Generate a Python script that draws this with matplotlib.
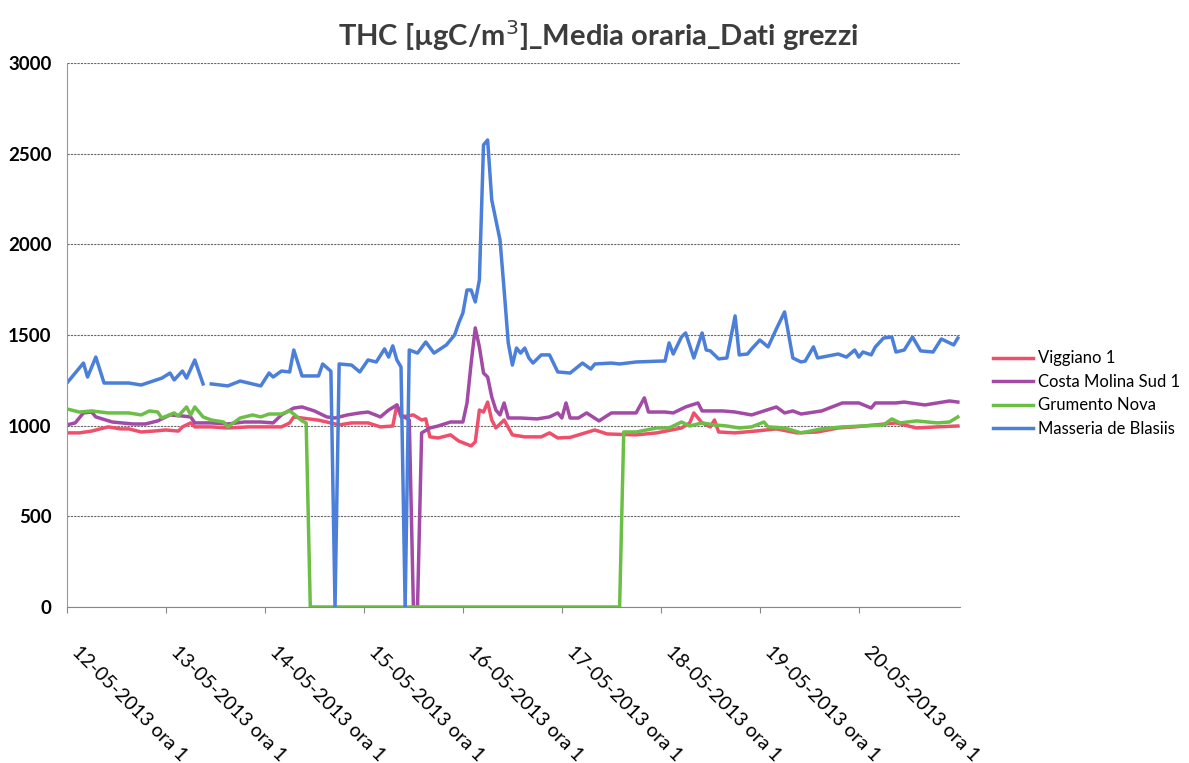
import numpy as np
import matplotlib
matplotlib.use('Agg')
import matplotlib.pyplot as plt
from matplotlib.transforms import ScaledTranslation

plt.rcParams['font.family'] = ['Lato', 'DejaVu Sans']

# hours since 12-05-2013 ora 1, hourly averages
nan = np.nan
viggiano = [(0, 960), (3, 960), (6, 970), (10, 993), (13, 982), (15, 982), (18, 965), (21, 970), (24, 976),
            (27, 970), (28, 993), (30, 1015), (31, 993), (35, 993), (39, 987), (44, 993), (48, 993), (52, 993),
            (54, 1015), (55, 1048), (57, 1042), (61, 1030), (63, 1020), (66, 1004), (69, 1015), (73, 1015),
            (76, 993), (79, 998), (80, 1114), (81, 1048), (84, 1059), (86, 1031), (87, 1037), (88, 938),
            (90, 932), (93, 949), (95, 915), (98, 888), (99, 910), (100, 1086), (101, 1075), (102, 1130),
            (103, 1031), (104, 987), (106, 1031), (108, 949), (111, 938), (115, 938), (117, 960), (119, 932),
            (122, 935), (128, 976), (131, 954), (138, 949), (143, 960), (149, 987), (151, 1015), (152, 1070),
            (154, 1015), (156, 993), (157, 1031), (158, 965), (162, 960), (167, 970), (172, 982), (177, 960),
            (182, 965), (187, 987), (191, 993), (196, 1004), (201, 1015), (206, 987), (211, 993), (216, 998)]

costa_molina = [(0, 1004), (2, 1015), (4, 1070), (6, 1075), (7, 1048), (11, 1020), (16, 1009), (19, 1009),
                (22, 1026), (25, 1059), (28, 1053), (30, 1048), (31, 1015), (35, 1015), (39, 1009), (43, 1020),
                (47, 1020), (50, 1015), (52, 1059), (55, 1097), (57, 1103), (60, 1081), (63, 1048), (65, 1042),
                (68, 1059), (71, 1070), (73, 1075), (76, 1048), (78, 1086), (80, 1114), (81, 1059), (83, 1031),
                (84, 0), (85, 0), (86, 960), (88, 987), (90, 998), (93, 1020), (96, 1020), (97, 1125), (98, 1345),
                (99, 1539), (100, 1434), (101, 1290), (102, 1268), (103, 1158), (104, 1086), (105, 1059),
                (106, 1125), (107, 1042), (110, 1042), (114, 1037), (117, 1048), (119, 1070), (120, 1042),
                (121, 1125), (122, 1042), (124, 1042), (126, 1070), (129, 1026), (132, 1070), (138, 1070),
                (140, 1153), (141, 1075), (145, 1075), (147, 1070), (150, 1103), (153, 1125), (154, 1081),
                (159, 1081), (162, 1075), (166, 1059), (172, 1103), (174, 1070), (176, 1081), (178, 1064),
                (183, 1081), (188, 1125), (192, 1125), (195, 1097), (196, 1125), (201, 1125), (203, 1130),
                (208, 1114), (211, 1125), (214, 1136), (216, 1130)]

grumento = [(0, 1092), (3, 1075), (6, 1081), (10, 1070), (15, 1070), (18, 1059), (20, 1081), (22, 1075),
            (23, 1042), (26, 1070), (27, 1053), (29, 1103), (30, 1059), (31, 1103), (33, 1048), (35, 1031),
            (38, 1020), (39, 993), (42, 1042), (45, 1059), (47, 1048), (49, 1064), (52, 1064), (54, 1081),
            (55, 1064), (57, 1026), (58, 1015), (59, 0), (134, 0), (135, 965), (138, 965), (143, 987),
            (146, 987), (149, 1020), (151, 998), (154, 1015), (157, 1004), (160, 998), (163, 987), (166, 993),
            (169, 1020), (170, 993), (174, 987), (178, 960), (183, 982), (188, 993), (193, 998), (198, 1004),
            (200, 1037), (202, 1015), (206, 1026), (211, 1015), (214, 1020), (216, 1048)]

masseria = [(0, 1235), (2, 1290), (4, 1345), (5, 1268), (7, 1378), (9, 1235), (15, 1235), (18, 1224),
            (23, 1262), (25, 1290), (26, 1252), (28, 1301), (29, 1262), (31, 1362), (33, 1230), (34, nan),
            (35, 1230), (39, 1219), (42, 1246), (47, 1219), (49, 1290), (50, 1268), (52, 1301), (54, 1296),
            (55, 1417), (57, 1274), (61, 1274), (62, 1340), (64, 1300), (65, 0), (66, 1340), (69, 1334),
            (71, 1296), (73, 1362), (75, 1351), (77, 1423), (78, 1378), (79, 1440), (80, 1362), (81, 1323),
            (82, 0), (83, 1417), (85, 1400), (87, 1461), (89, 1400), (92, 1445), (94, 1500), (95, 1566),
            (96, 1621), (97, 1748), (98, 1748), (99, 1682), (100, 1803), (101, 2548), (102, 2575), (103, 2244),
            (105, 2024), (106, 1748), (107, 1456), (108, 1334), (109, 1428), (110, 1400), (111, 1428),
            (112, 1373), (113, 1345), (115, 1390), (117, 1390), (119, 1296), (122, 1290), (125, 1345),
            (127, 1312), (128, 1340), (132, 1345), (134, 1340), (138, 1351), (144, 1356), (145, 1356),
            (146, 1456), (147, 1395), (149, 1489), (150, 1511), (152, 1373), (154, 1511), (155, 1417),
            (156, 1412), (158, 1368), (160, 1373), (162, 1605), (163, 1390), (165, 1395), (166, 1423),
            (168, 1472), (170, 1434), (172, 1533), (174, 1627), (176, 1373), (178, 1351), (179, 1356),
            (181, 1434), (182, 1373), (187, 1395), (189, 1378), (191, 1417), (192, 1378), (193, 1406),
            (195, 1390), (196, 1434), (198, 1483), (200, 1489), (201, 1406), (203, 1417), (205, 1489),
            (207, 1412), (210, 1406), (212, 1478), (214, 1456), (215, 1445), (216, 1483)]

series_names = ['Viggiano 1', 'Costa Molina Sud 1', 'Grumento Nova', 'Masseria de Blasiis']
series_colors = ['#f04f6c', '#a24aa6', '#6cbf46', '#4b7fd9']
day_labels = ['12-05-2013 ora 1', '13-05-2013 ora 1', '14-05-2013 ora 1', '15-05-2013 ora 1',
              '16-05-2013 ora 1', '17-05-2013 ora 1', '18-05-2013 ora 1', '19-05-2013 ora 1',
              '20-05-2013 ora 1']

fig = plt.figure(figsize=(11.89, 7.63), dpi=100)
ax = fig.add_axes([0.0563, 0.2045, 0.751, 0.713])

for data, name, col in zip([viggiano, costa_molina, grumento, masseria], series_names, series_colors):
    h, v = zip(*data)
    ax.plot(h, v, color=col, lw=2.5, label=name, solid_joinstyle='round')

ax.set_xlim(0, 216.5)
ax.set_ylim(0, 3000)
ax.set_yticks(range(0, 3001, 500))
ax.set_yticklabels([str(v) for v in range(0, 3001, 500)], fontsize=13.5, fontweight='bold')
ax.yaxis.grid(True, color='#666666', lw=0.8, linestyle=(0, (2, 1)))
ax.tick_params(axis='y', length=0, pad=11)
ax.set_xticks([24 * i for i in range(len(day_labels))])
ax.set_xticklabels(day_labels, rotation=-45, ha='left', va='top', rotation_mode='anchor', fontsize=14)
ax.tick_params(axis='x', length=4, color='#888888', pad=22)
shift = ScaledTranslation(10 / 72, 0, fig.dpi_scale_trans)
for lbl in ax.get_xticklabels():
    lbl.set_transform(lbl.get_transform() + shift)
for s in ['top', 'right']:
    ax.spines[s].set_visible(False)
ax.spines['left'].set_color('#999999')
ax.spines['bottom'].set_color('#888888')
ax.set_axisbelow(True)

fig.text(0.503, 0.954, 'THC [µgC/m$^3$]_Media oraria_Dati grezzi', ha='center', va='center',
         fontsize=21, fontweight='bold', color='#3c3c3c')

ax.legend(loc='center left', bbox_to_anchor=(1.02, 0.392), frameon=False, fontsize=12,
          handlelength=2.4, labelspacing=0.45, handletextpad=0.3)

plt.savefig('out.png', dpi=100)
